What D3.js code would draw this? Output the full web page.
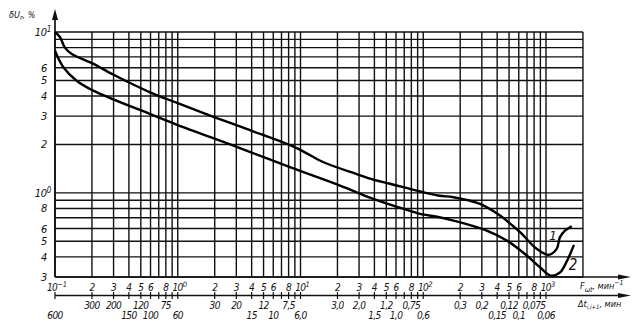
<!DOCTYPE html>
<html><head><meta charset="utf-8">
<script src="https://cdn.jsdelivr.net/npm/d3@7"></script>
<style>
body{margin:0;background:#fff;}
svg text{font-family:"DejaVu Sans Condensed","DejaVu Sans",sans-serif;font-style:italic;fill:#111;}
</style></head>
<body><svg id="c" width="638" height="331"></svg>
<script>
// ---- data ----
const curve1F = [0.1,0.11,0.12,0.137,0.2,0.3,0.594,1.0,2.0,3.83,9.3,15.4,28.7,39.2,53.6,94,135,176,290,422,614,839,1045,1222,1300,1428,1620];
const curve1V = [10.0,9.27,8.03,7.3,6.4,5.42,4.22,3.61,2.95,2.46,1.9,1.55,1.31,1.21,1.14,1.02,0.96,0.94,0.855,0.723,0.57,0.449,0.412,0.449,0.531,0.583,0.621];
const curve2F = [0.1,0.117,0.15,0.205,0.594,1.0,3.21,8.2,21,39.2,73.3,94,135,176,329,479,697,893,1092,1300,1466,1690];
const curve2V = [7.65,6.04,4.98,4.32,3.09,2.64,1.9,1.445,1.11,0.918,0.784,0.74,0.706,0.673,0.583,0.506,0.408,0.345,0.306,0.32,0.371,0.475];
const curveLabels = ["1","2"];
const xDecades = [0.1,1,10,100,1000];
const xMinor = [1,2,3,4,5,6,7,8,9];
const xLabelMult = [1,2,3,4,5,6,8];
const xDecadeLabels = [["10","\u22121"],["10","0"],["10","1"],["10","2"],["10","3"]];
const yGridValues = [0.3,0.4,0.5,0.6,0.7,0.8,0.9,1,2,3,4,5,6,7,8,9,10];
const yLabelValues = [10,6,5,4,3,2,1,0.8,0.6,0.5,0.4,0.3];
const yLabelText = [["10","1"],["6"],["5"],["4"],["3"],["2"],["10","0"],["8"],["6"],["5"],["4"],["3"]];
const dtRowAF = [0.2,0.3,0.5,0.8,2,3,5,8,20,30,50,80,200,300,500,800];
const dtRowAL = ["300","200","120","75","30","20","12","7,5","3,0","2,0","1,2","0,75","0,3","0,2","0,12","0,075"];
const dtRowBF = [0.1,0.4,0.6,1,4,6,10,40,60,100,400,600,1000];
const dtRowBL = ["600","150","100","60","15","10","6,0","1,5","1,0","0,6","0,15","0,1","0,06"];

// ---- layout ----
const svg = d3.select("#c");
const x = d3.scaleLog().domain([0.1,1000]).range([55,546]);
const y = d3.scaleLog().domain([0.3,10]).range([277,32]);
const xEnd = 2000;
const ink = "#111";

const xGrid = [];
xDecades.forEach(d => xMinor.forEach(m => { const v = d*m; if (v <= 1000.0001) xGrid.push(v); }));
xGrid.push(xEnd);

const g = svg.append("g");
g.selectAll("line.vx").data(xGrid).join("line")
  .attr("x1", d => x(d)).attr("x2", d => x(d))
  .attr("y1", y(10)).attr("y2", y(0.3))
  .attr("stroke", ink).attr("stroke-width", 1.4);
g.selectAll("line.hy").data(yGridValues).join("line")
  .attr("x1", x(0.1)).attr("x2", x(xEnd))
  .attr("y1", d => y(d)).attr("y2", d => y(d))
  .attr("stroke", ink).attr("stroke-width", 1.4);

const arrow = (x0,y0,dir) => {
  let pts;
  if (dir === "up") pts = [[x0,y0],[x0-3,y0+11],[x0+3,y0+11]];
  else pts = [[x0,y0],[x0-13,y0-2.5],[x0-13,y0+2.5]];
  svg.append("path").attr("d", d3.line()(pts)+"Z").attr("fill", ink);
};
svg.append("line").attr("x1", x(0.1)).attr("x2", x(0.1)).attr("y1", y(0.3)).attr("y2", 14)
  .attr("stroke", ink).attr("stroke-width", 1.7);
arrow(x(0.1), 9, "up");
svg.append("line").attr("x1", x(0.1)).attr("x2", 622).attr("y1", y(0.3)).attr("y2", y(0.3))
  .attr("stroke", ink).attr("stroke-width", 1.5);
arrow(631, y(0.3), "right");
const yDt = 295.5;
svg.append("line").attr("x1", x(0.1)).attr("x2", 622).attr("y1", yDt).attr("y2", yDt)
  .attr("stroke", ink).attr("stroke-width", 1.3);
arrow(631, yDt, "right");
svg.selectAll("line.dt").data(xGrid.filter(v => v <= 1000.0001)).join("line")
  .attr("x1", d => x(d)).attr("x2", d => x(d))
  .attr("y1", yDt-3.5).attr("y2", yDt+3.5)
  .attr("stroke", ink).attr("stroke-width", 1.2);

const fs = 10;
const ls = -0.6;
const xLab = [];
xDecades.forEach((d,i) => xLabelMult.forEach(m => {
  if (m === 1) xLab.push({v:d, t:xDecadeLabels[i]});
  else if (d < 1000) xLab.push({v:d*m, t:[String(m)]});
}));
xLab.forEach(o => {
  const t = svg.append("text").attr("x", x(o.v) + (o.t.length > 1 ? 2 : 0)).attr("y", 291).attr("font-size", fs)
    .attr("text-anchor", "middle").attr("letter-spacing", ls);
  t.append("tspan").text(o.t[0]);
  if (o.t.length > 1) t.append("tspan").attr("dy", -4).attr("font-size", 7.5).attr("letter-spacing", 0).text(o.t[1]);
});
dtRowAF.forEach((v,i) => svg.append("text").attr("x", x(v)).attr("y", 309)
  .attr("font-size", fs).attr("letter-spacing", ls).attr("text-anchor", "middle").text(dtRowAL[i]));
dtRowBF.forEach((v,i) => svg.append("text").attr("x", x(v)).attr("y", 319)
  .attr("font-size", fs).attr("letter-spacing", ls).attr("text-anchor", "middle").text(dtRowBL[i]));

yLabelValues.forEach((v,i) => {
  const lt = yLabelText[i];
  const t = svg.append("text").attr("x", lt.length > 1 ? 51 : 47).attr("y", y(v)+4)
    .attr("font-size", 11).attr("text-anchor", "end").attr("letter-spacing", -0.3);
  t.append("tspan").text(lt[0]);
  if (lt.length > 1) t.append("tspan").attr("dy", -4).attr("font-size", 8).text(lt[1]);
});

const yt = svg.append("text").attr("x", 9).attr("y", 18).attr("font-size", 9);
yt.append("tspan").text("δU");
yt.append("tspan").attr("dy", 2).attr("font-size", 7).text("r");
yt.append("tspan").attr("dy", -2).text(", %");

const ft = svg.append("text").attr("x", 580).attr("y", 289).attr("font-size", 9);
ft.append("tspan").text("F");
ft.append("tspan").attr("dy", 3).attr("font-size", 7).text("ωt");
ft.append("tspan").attr("dy", -3).text(", мин");
ft.append("tspan").attr("dy", -4).attr("font-size", 7).text("\u22121");

const dt = svg.append("text").attr("x", 578).attr("y", 307).attr("font-size", 9);
dt.append("tspan").text("Δt");
dt.append("tspan").attr("dy", 2).attr("font-size", 6).text("i,i+1");
dt.append("tspan").attr("dy", -2).text(", мин");

const line = d3.line().x(d => x(d[0])).y(d => y(d[1])).curve(d3.curveCatmullRom.alpha(0.5));
svg.append("path").datum(curve1F.map((f,i)=>[f,curve1V[i]])).attr("d", line)
  .attr("fill","none").attr("stroke","#000").attr("stroke-width",2.4);
svg.append("path").datum(curve2F.map((f,i)=>[f,curve2V[i]])).attr("d", line)
  .attr("fill","none").attr("stroke","#000").attr("stroke-width",2.4);

svg.append("text").attr("x", 553).attr("y", y(0.55)+5).attr("font-size", 13)
  .attr("text-anchor","middle").text(curveLabels[0]);
svg.append("text").attr("x", 573).attr("y", y(0.36)+6).attr("font-size", 15)
  .attr("text-anchor","middle").text(curveLabels[1]);
</script></body></html>
